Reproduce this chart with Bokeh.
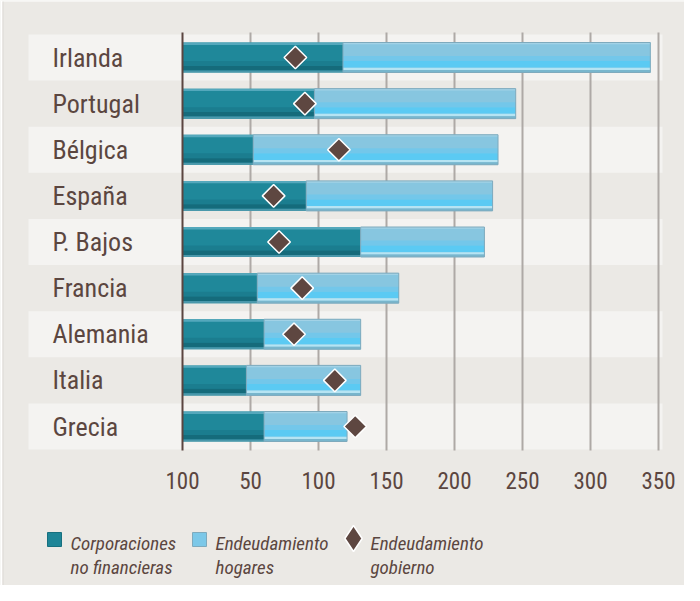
import numpy as np
from bokeh.plotting import figure
from bokeh.models import Range1d
from bokeh.core.properties import value
from bokeh.embed import file_html
from bokeh.resources import INLINE

# ---------------- data ----------------
paises = ["Irlanda", "Portugal", "Bélgica", "España", "P. Bajos",
          "Francia", "Alemania", "Italia", "Grecia"]
corporaciones = [118, 97, 52, 91, 131, 55, 60, 47, 60]
hogares = [226, 148, 180, 137, 91, 104, 71, 84, 61]
gobierno = [83, 90, 115, 67, 71, 88, 82, 112, 127]
tick_values = [0, 50, 100, 150, 200, 250, 300, 350]
tick_labels = ["100", "50", "100", "150", "200", "250", "300", "350"]
legend_line1 = ["Corporaciones", "Endeudamiento", "Endeudamiento"]
legend_line2 = ["no financieras", "hogares", "gobierno"]

# ---------------- geometry helpers (page px -> data) ----------------
W, H = 684, 585
X0, SX = 182.0, 1.36       # figure px of value 0, px per unit
Y0, SY = 57.0, 46.125      # figure px of first row, px per row


def dx(px):
    return (px - 8 - X0) / SX


def dy(py):
    return (py - 8 - Y0) / SY


FONT = "Roboto Condensed"
TXT = "#5b4640"
BG = "#ebe9e5"
BAND = "#f4f3f1"

p = figure(width=W, height=H, output_backend="svg", toolbar_location=None,
           x_range=Range1d(dx(8), dx(8 + W)), y_range=Range1d(dy(8 + H), dy(8)),
           x_axis_location=None, y_axis_location=None, min_border=0,
           background_fill_color=BG, border_fill_color=BG, outline_line_color=None)
p.grid.visible = False

# white page margin left/top of the panel and its thin edge
p.quad(left=dx(8), right=dx(10), top=dy(8), bottom=dy(8 + H), fill_color="white", line_color=None)
p.quad(left=dx(8), right=dx(8 + W), top=dy(8), bottom=dy(9), fill_color="white", line_color=None)
p.segment(x0=[dx(10.5)], x1=[dx(10.5)], y0=[dy(9)], y1=[dy(8 + H)], line_color="#dcd9d5", line_width=1)

rows = np.arange(len(paises))
corp = np.array(corporaciones, dtype=float)
total = corp + np.array(hogares, dtype=float)

# zebra bands
band_rows = rows[::2]
p.quad(left=dx(36), right=dx(670), top=band_rows - 0.5, bottom=band_rows + 0.5,
       fill_color=BAND, line_color=None)

# grid lines
grid_ticks = tick_values[1:]
p.segment(x0=grid_ticks, x1=grid_ticks, y0=[dy(40)] * len(grid_ticks), y1=[dy(458)] * len(grid_ticks),
          line_color="#aea9a6", line_width=2)

BH = 30.0 / SY


def layer(left, right, f0, f1, color):
    c = rows - BH / 2 + BH * (f0 + f1) / 2
    p.hbar(y=c, left=left, right=right, height=BH * (f1 - f0), fill_color=color, line_color=None)


# dark bars (corporaciones)
layer(0, corp, 0.0, 1.0, "#1f889a")
layer(0, corp, 0.0, 0.08, "#54a8bc")
layer(0, corp, 0.62, 0.78, "#1b7d8f")
layer(0, corp, 0.78, 0.93, "#156b7b")
layer(0, corp, 0.93, 1.0, "#4a98ab")

# light bars (hogares)
layer(corp, total, 0.0, 1.0, "#87c6e0")
layer(corp, total, 0.0, 0.06, "#a2d2e6")
layer(corp, total, 0.45, 0.62, "#73c7ea")
layer(corp, total, 0.62, 0.84, "#5bcaf3")
layer(corp, total, 0.84, 0.92, "#b6e4f3")
layer(corp, total, 0.92, 1.0, "#78b6cd")
p.hbar(y=rows, left=corp, right=total, height=BH, fill_color=None,
       line_color="#7eaabd", line_width=1)

# axis line
p.segment(x0=[0], x1=[0], y0=[dy(40)], y1=[dy(458)], line_color="#5a4540", line_width=2)

# government debt diamonds
p.scatter(x=gobierno, y=rows, marker="square", angle=np.pi / 4, size=16,
          fill_color="#5e4741", line_color="white", line_width=1.5)

# row labels
p.text(x=[dx(60)] * len(paises), y=rows, text=paises, text_font=value(FONT),
       text_font_size="26px", text_color=TXT, text_align="left", text_baseline="middle")

# tick labels
p.text(x=tick_values, y=[dy(488)] * len(tick_values), text=tick_labels, text_font=value(FONT),
       text_font_size="23px", text_color=TXT, text_align="center", text_baseline="middle")

# legend
p.rect(x=[dx(62)], y=[dy(547)], width=14, height=14, width_units="screen", height_units="screen",
       fill_color="#1e8597", line_color="#17707f", line_width=1)
p.rect(x=[dx(207)], y=[dy(547)], width=14, height=14, width_units="screen", height_units="screen",
       fill_color="#7cc8e8", line_color="#7eaabd", line_width=1)
p.scatter(x=[dx(361)], y=[dy(546)], marker="diamond", size=26,
          fill_color="#5e4741", line_color="white", line_width=1.5)
leg_x = [dx(78), dx(223), dx(378)]
p.text(x=leg_x, y=[dy(551)] * 3, text=legend_line1, text_font=value(FONT), text_font_style="italic",
       text_font_size="19px", text_color=TXT, text_align="left", text_baseline="alphabetic")
p.text(x=leg_x, y=[dy(575)] * 3, text=legend_line2, text_font=value(FONT), text_font_style="italic",
       text_font_size="19px", text_color=TXT, text_align="left", text_baseline="alphabetic")

open("out.html", "w").write(file_html(p, INLINE))
